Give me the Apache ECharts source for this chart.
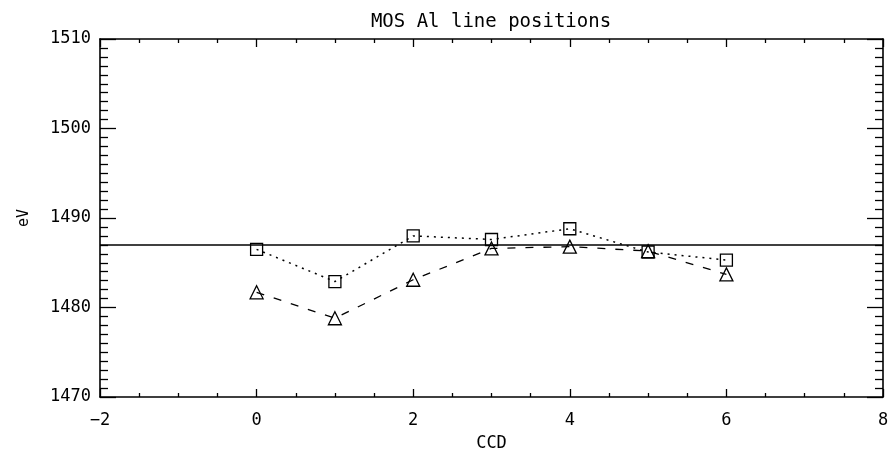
<!DOCTYPE html>
<html>
<head>
<meta charset="utf-8">
<title>MOS Al line positions</title>
<script src="https://cdn.jsdelivr.net/npm/echarts@6/dist/echarts.min.js"></script>
<style>
    html, body { margin: 0; padding: 0; background: #ffffff; }
    #lineChart { width: 890px; height: 452px; }
</style>
</head>
<body>
<div id="lineChart"></div>
<script>
/* jshint esversion: 6 */

// CCD numbers and measured line positions (eV)
let ccd = [0, 1, 2, 3, 4, 5, 6];
let posSquare = [1486.5, 1482.9, 1488.0, 1487.6, 1488.8, 1486.2, 1485.3];
let posTriangle = [1481.7, 1478.8, 1483.1, 1486.6, 1486.8, 1486.3, 1483.7];
let refLevel = 1487.0;

let xRange = [-2, 8];
let yRange = [1470, 1510];

function pairs(xs, ys) {
    let out = [];
    for (let i = 0; i < xs.length; i++) {
        out.push([xs[i], ys[i]]);
    }
    return out;
}

function draw_LinePositions_Chart() {
    let chart = echarts.init(document.getElementById('lineChart'));
    let font = 'DejaVu Sans Mono';

    // shared look for the four frame axes
    let frame = (len, minorLen, minorSplit) => ({
        axisLine: { show: true, onZero: false, lineStyle: { color: '#000', width: 1.6 } },
        axisTick: { show: true, inside: true, length: len, lineStyle: { color: '#000', width: 1.3 } },
        minorTick: { show: true, splitNumber: minorSplit, length: minorLen, lineStyle: { color: '#000', width: 1.3 } },
        splitLine: { show: false },
        minorSplitLine: { show: false }
    });

    let option = {
        backgroundColor: '#ffffff',
        animation: false,
        title: {
            text: 'MOS Al line positions',
            left: 491,
            textAlign: 'center',
            top: 13,
            padding: 0,
            textStyle: { color: '#000', fontFamily: font, fontSize: 19, fontWeight: 'normal' }
        },
        grid: { left: 100, right: 7, top: 39, bottom: 55, outerBoundsMode: 'none' },
        xAxis: [
            Object.assign({
                type: 'value',
                position: 'bottom',
                min: xRange[0], max: xRange[1], interval: 2,
                name: 'CCD',
                nameLocation: 'middle',
                nameGap: 38,
                nameTextStyle: { color: '#000', fontFamily: font, fontSize: 17 },
                axisLabel: { color: '#000', fontFamily: font, fontSize: 17, margin: 15,
                    formatter: v => (v < 0 ? '\u2212' + Math.abs(v) : '' + v) }
            }, frame(8, 4, 4)),
            Object.assign({
                type: 'value',
                position: 'top',
                min: xRange[0], max: xRange[1], interval: 2,
                axisLabel: { show: false }
            }, frame(8, 4, 4))
        ],
        yAxis: [
            Object.assign({
                type: 'value',
                position: 'left',
                min: yRange[0], max: yRange[1], interval: 10,
                name: 'eV',
                nameLocation: 'middle',
                nameRotate: 90,
                nameGap: 68,
                nameTextStyle: { color: '#000', fontFamily: font, fontSize: 15 },
                axisLabel: { color: '#000', fontFamily: font, fontSize: 17, margin: 9,
                    formatter: v => '' + v }
            }, frame(16, 8, 10)),
            Object.assign({
                type: 'value',
                position: 'right',
                min: yRange[0], max: yRange[1], interval: 10,
                axisLabel: { show: false }
            }, frame(16, 8, 10))
        ],
        series: [
            {
                name: 'squares',
                type: 'line',
                data: pairs(ccd, posSquare),
                symbol: 'rect',
                symbolSize: 12,
                showAllSymbol: true,
                itemStyle: { color: 'transparent', borderColor: '#000', borderWidth: 1.3 },
                lineStyle: { color: '#000', width: 1.5, type: [2, 5] },
                markLine: {
                    silent: true,
                    symbol: ['none', 'none'],
                    label: { show: false },
                    lineStyle: { color: '#000', width: 1.5, type: 'solid' },
                    data: [{ yAxis: refLevel }]
                },
                z: 3
            },
            {
                name: 'triangles',
                type: 'line',
                data: pairs(ccd, posTriangle),
                symbol: 'triangle',
                symbolSize: 13,
                showAllSymbol: true,
                itemStyle: { color: 'transparent', borderColor: '#000', borderWidth: 1.3 },
                lineStyle: { color: '#000', width: 1.3, type: [8, 10] },
                z: 3
            }
        ]
    };
    chart.setOption(option);
}

window.onload = () => {
    draw_LinePositions_Chart();
};
</script>
</body>
</html>
